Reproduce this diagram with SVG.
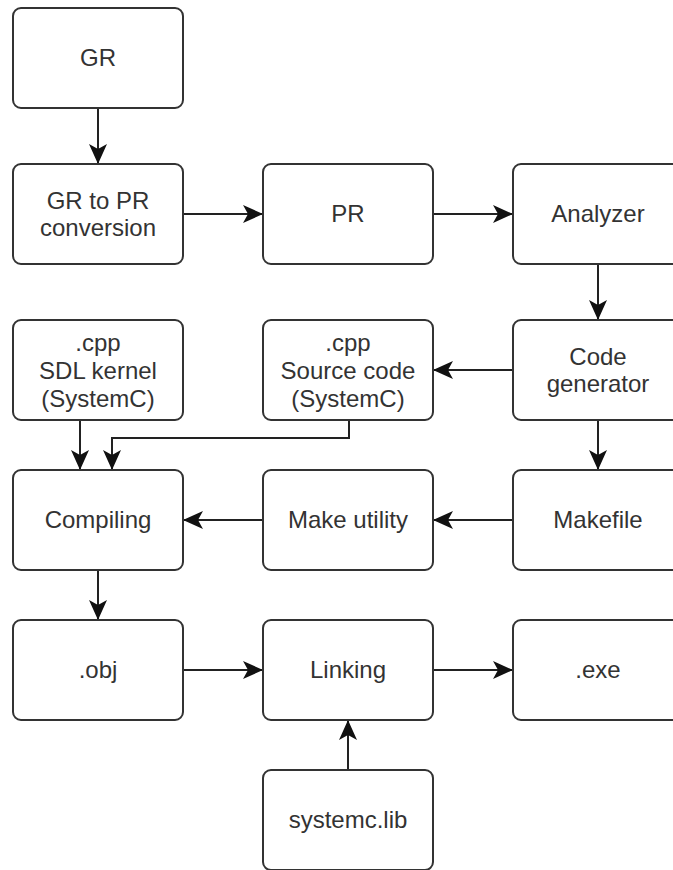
<svg xmlns="http://www.w3.org/2000/svg" width="673" height="870" viewBox="0 0 673 870">
<style>
.box{fill:#ffffff;stroke:#333333;stroke-width:2}
.lbl{font-family:"Liberation Sans",Arial,sans-serif;font-size:24px;fill:#333333;text-anchor:middle}
.edge{fill:none;stroke:#222222;stroke-width:2}
</style>
<defs>
<marker id="arr" markerUnits="userSpaceOnUse" markerWidth="22" markerHeight="22" refX="20" refY="10" orient="auto">
<path d="M0,1 L20,10 L0,19 L5,10 Z" fill="#111111"/>
</marker>
</defs>
<rect width="673" height="870" fill="#ffffff"/>
<g id="connectors">
<path class="edge" d="M98,108 V164" marker-end="url(#arr)"/>
<path class="edge" d="M183,214 H263" marker-end="url(#arr)"/>
<path class="edge" d="M433,214 H513" marker-end="url(#arr)"/>
<path class="edge" d="M598,264 V320" marker-end="url(#arr)"/>
<path class="edge" d="M513,370 H433" marker-end="url(#arr)"/>
<path class="edge" d="M80,420 V470" marker-end="url(#arr)"/>
<path class="edge" d="M349,420 V438 H112 V470" marker-end="url(#arr)"/>
<path class="edge" d="M598,420 V470" marker-end="url(#arr)"/>
<path class="edge" d="M513,520 H433" marker-end="url(#arr)"/>
<path class="edge" d="M263,520 H183" marker-end="url(#arr)"/>
<path class="edge" d="M98,570 V620" marker-end="url(#arr)"/>
<path class="edge" d="M183,670 H263" marker-end="url(#arr)"/>
<path class="edge" d="M433,670 H513" marker-end="url(#arr)"/>
<path class="edge" d="M348,770 V720" marker-end="url(#arr)"/>
</g>
<g id="gr"><rect class="box" x="13" y="8" width="170" height="100" rx="8"/><text class="lbl" x="98" y="66">GR</text></g>
<g id="gr2pr"><rect class="box" x="13" y="164" width="170" height="100" rx="8"/><text class="lbl" x="98" y="209">GR to PR</text><text class="lbl" x="98" y="236">conversion</text></g>
<g id="pr"><rect class="box" x="263" y="164" width="170" height="100" rx="8"/><text class="lbl" x="348" y="222">PR</text></g>
<g id="analyzer"><rect class="box" x="513" y="164" width="170" height="100" rx="8"/><text class="lbl" x="598" y="222">Analyzer</text></g>
<g id="sdlkernel"><rect class="box" x="13" y="320" width="170" height="100" rx="8"/><text class="lbl" x="98" y="351">.cpp</text><text class="lbl" x="98" y="379">SDL kernel</text><text class="lbl" x="98" y="407">(SystemC)</text></g>
<g id="sourcecode"><rect class="box" x="263" y="320" width="170" height="100" rx="8"/><text class="lbl" x="348" y="351">.cpp</text><text class="lbl" x="348" y="379">Source code</text><text class="lbl" x="348" y="407">(SystemC)</text></g>
<g id="codegen"><rect class="box" x="513" y="320" width="170" height="100" rx="8"/><text class="lbl" x="598" y="365">Code</text><text class="lbl" x="598" y="392">generator</text></g>
<g id="compiling"><rect class="box" x="13" y="470" width="170" height="100" rx="8"/><text class="lbl" x="98" y="528">Compiling</text></g>
<g id="makeutility"><rect class="box" x="263" y="470" width="170" height="100" rx="8"/><text class="lbl" x="348" y="528">Make utility</text></g>
<g id="makefile"><rect class="box" x="513" y="470" width="170" height="100" rx="8"/><text class="lbl" x="598" y="528">Makefile</text></g>
<g id="obj"><rect class="box" x="13" y="620" width="170" height="100" rx="8"/><text class="lbl" x="98" y="678">.obj</text></g>
<g id="linking"><rect class="box" x="263" y="620" width="170" height="100" rx="8"/><text class="lbl" x="348" y="678">Linking</text></g>
<g id="exe"><rect class="box" x="513" y="620" width="170" height="100" rx="8"/><text class="lbl" x="598" y="678">.exe</text></g>
<g id="systemclib"><rect class="box" x="263" y="770" width="170" height="100" rx="8"/><text class="lbl" x="348" y="828">systemc.lib</text></g>
</svg>
